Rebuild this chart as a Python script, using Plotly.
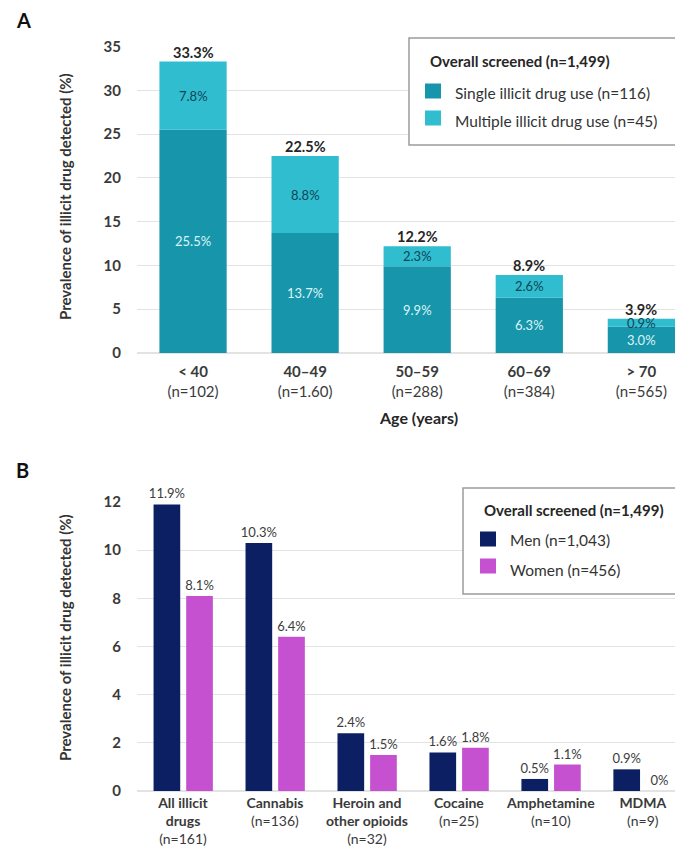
import plotly.graph_objects as go

# ---------------- data ----------------
age_groups = ["&lt; 40", "40–49", "50–59", "60–69", "&gt; 70"]
age_n = ["(n=102)", "(n=1.60)", "(n=288)", "(n=384)", "(n=565)"]
single_use = [25.5, 13.7, 9.9, 6.3, 3.0]
multiple_use = [7.8, 8.8, 2.3, 2.6, 0.9]

drug_names = ["All illicit<br>drugs", "Cannabis", "Heroin and<br>other opioids", "Cocaine", "Amphetamine", "MDMA"]
drug_n = ["(n=161)", "(n=136)", "(n=32)", "(n=25)", "(n=10)", "(n=9)"]
men_vals = [11.9, 10.3, 2.4, 1.6, 0.5, 0.9]
women_vals = [8.1, 6.4, 1.5, 1.8, 1.1, 0]

yticks_a = [0, 5, 10, 15, 20, 25, 30, 35]
yticks_b = [0, 2, 4, 6, 8, 10, 12]

legend_title = "Overall screened (n=1,499)"
legend_a = ["Single illicit drug use (n=116)", "Multiple illicit drug use (n=45)"]
legend_b = ["Men (n=1,043)", "Women (n=456)"]

# ---------------- style ----------------
FONT = "Lato"
C_SINGLE = "#1795AA"
C_MULTI = "#31BDD0"
C_MEN = "#0C1F62"
C_WOMEN = "#C550D0"
GRID = "#E3E3E3"
W, H = 675, 846


def px(x):
    return x / W


def py(y):
    return 1 - y / H


fig = go.Figure()

xa = list(range(len(age_groups)))
xb = list(range(len(drug_names)))

fig.add_trace(go.Bar(x=xa, y=single_use, width=0.6, marker=dict(color=C_SINGLE, line=dict(width=0)),
                     name=legend_a[0], xaxis="x", yaxis="y", hoverinfo="skip"))
fig.add_trace(go.Bar(x=xa, y=multiple_use, base=single_use, width=0.6,
                     marker=dict(color=C_MULTI, line=dict(width=0)),
                     name=legend_a[1], xaxis="x", yaxis="y", hoverinfo="skip"))

fig.add_trace(go.Bar(x=xb, y=men_vals, width=0.29, offset=-0.32,
                     marker=dict(color=C_MEN, line=dict(width=0)),
                     name=legend_b[0], xaxis="x2", yaxis="y2",
                     text=[f"{v:g}%" for v in men_vals], textposition="outside", constraintext="none",
                     textfont=dict(family=FONT, size=13, color="#3C3C3C"), cliponaxis=False,
                     hoverinfo="skip"))
fig.add_trace(go.Bar(x=xb, y=women_vals, width=0.29, offset=0.035,
                     marker=dict(color=C_WOMEN, line=dict(width=0)),
                     name=legend_b[1], xaxis="x2", yaxis="y2",
                     text=[f"{v:g}%" for v in women_vals], textposition="outside", constraintext="none",
                     textfont=dict(family=FONT, size=13, color="#3C3C3C"), cliponaxis=False,
                     hoverinfo="skip"))

annotations = []
for i, (s, m) in enumerate(zip(single_use, multiple_use)):
    tot = round(s + m, 1)
    annotations.append(dict(x=i, y=s / 2, xref="x", yref="y", text=f"{s:.1f}%", showarrow=False,
                            xanchor="center", yanchor="middle",
                            font=dict(family=FONT, size=13, color="#DDF4F8")))
    annotations.append(dict(x=i, y=s + m / 2, xref="x", yref="y", text=f"{m:.1f}%", showarrow=False,
                            xanchor="center", yanchor="middle",
                            font=dict(family=FONT, size=13, color="#0E4555")))
    annotations.append(dict(x=i, y=tot, xref="x", yref="y", text=f"<b>{tot:.1f}%</b>", showarrow=False,
                            xanchor="center", yanchor="bottom", yshift=-1,
                            font=dict(family=FONT, size=14.5, color="#262626")))


def ann(x, y, text, size, color="#262626", xanchor="center", angle=0):
    annotations.append(dict(x=px(x), y=py(y), xref="paper", yref="paper", text=text, showarrow=False,
                            xanchor=xanchor, yanchor="middle", textangle=angle,
                            font=dict(family=FONT, size=size, color=color)))


# panel letters
ann(14, 20, "<b>A</b>", 20, "#111", "left")
ann(14, 470, "<b>B</b>", 20, "#111", "left")
# y titles
ann(65, 197, "<b>Prevalence of illicit drug detected (%)</b>", 15, "#333", angle=-90)
ann(65, 638, "<b>Prevalence of illicit drug detected (%)</b>", 15, "#333", angle=-90)
# x title A
ann(418, 418, "<b>Age (years)</b>", 16)

# ---------------- manual legends ----------------
shapes = []


def legend_block(x0, y0, y1, title_x, title_y, sw_x, sw_ys, txt_x, txt_ys, labels, colors):
    shapes.append(dict(type="rect", xref="paper", yref="paper", x0=px(x0), x1=px(W + 5), y0=py(y1), y1=py(y0),
                       line=dict(color="#9C9C9C", width=1.5), fillcolor="white", layer="above"))
    ann(title_x, title_y, f"<b>{legend_title}</b>", 15, "#262626", "left")
    for sy, ty, lab, col in zip(sw_ys, txt_ys, labels, colors):
        shapes.append(dict(type="rect", xref="paper", yref="paper", x0=px(sw_x), x1=px(sw_x + 16),
                           y0=py(sy + 7.5), y1=py(sy - 7.5), line=dict(width=0), fillcolor=col, layer="above"))
        ann(txt_x, ty, lab, 15.5, "#333", "left")


legend_block(409, 38, 145, 428, 61, 425, [91, 118], 453, [93, 121], legend_a, [C_SINGLE, C_MULTI])
legend_block(463, 488, 594, 482, 510, 480, [539, 566], 508, [540, 570], legend_b, [C_MEN, C_WOMEN])

fig.update_layout(
    width=W, height=H, margin=dict(l=0, r=0, t=0, b=0),
    paper_bgcolor="white", plot_bgcolor="white",
    barmode="overlay", showlegend=False,
    font=dict(family=FONT, color="#333"),
    xaxis=dict(domain=[px(137), 1], range=[-0.5, 4.3], anchor="y",
               tickvals=xa, ticktext=[f"<b>{g}</b><br>{n}" for g, n in zip(age_groups, age_n)],
               tickfont=dict(family=FONT, size=15, color="#3A3A3A"), showgrid=False, zeroline=False,
               showline=False, ticks="", ticklabelstandoff=8, automargin=False),
    yaxis=dict(domain=[py(353), py(46.7)], range=[0, 35], anchor="x",
               tickvals=yticks_a, tickfont=dict(family=FONT, size=15, color="#3A3A3A", weight="bold"),
               showgrid=True, gridcolor=GRID, gridwidth=1, zeroline=True, zerolinecolor=GRID,
               showline=False, ticks="", ticklabelstandoff=15, automargin=False),
    xaxis2=dict(domain=[px(137), 1], range=[-0.5, 5.35], anchor="y2",
                tickvals=xb, ticktext=[f"<b>{g}</b><br>{n}" for g, n in zip(drug_names, drug_n)],
                tickfont=dict(family=FONT, size=14, color="#3A3A3A"), showgrid=False, zeroline=False,
                showline=False, ticks="", ticklabelstandoff=2, automargin=False),
    yaxis2=dict(domain=[py(791), py(502)], range=[0, 12], anchor="x2",
                tickvals=yticks_b, tickfont=dict(family=FONT, size=15, color="#3A3A3A", weight="bold"),
                showgrid=True, gridcolor=GRID, gridwidth=1, zeroline=True, zerolinecolor=GRID,
                showline=False, ticks="", ticklabelstandoff=15, automargin=False),
    annotations=annotations,
    shapes=shapes,
)

fig.write_html("out.html", config={"displayModeBar": False, "staticPlot": True},
               post_script="document.body.style.margin='0px';document.body.style.overflow='hidden';")
